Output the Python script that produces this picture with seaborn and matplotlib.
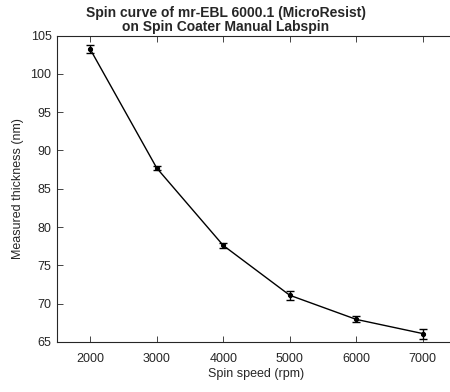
import matplotlib
matplotlib.use('Agg')
import matplotlib.pyplot as plt
import seaborn as sns
import pandas as pd
import numpy as np

# spin curve data
spin_speed = [2000, 3000, 4000, 5000, 6000, 7000]  # rpm
thickness = [103.2, 87.7, 77.6, 71.1, 67.95, 66.1]  # nm
thickness_err = [0.5, 0.3, 0.3, 0.6, 0.4, 0.65]

x_ticks = [2000, 3000, 4000, 5000, 6000, 7000]
y_ticks = [65, 70, 75, 80, 85, 90, 95, 100, 105]

data = pd.DataFrame({'speed': spin_speed, 'thickness': thickness, 'err': thickness_err})

sns.set_theme(style='ticks')
plt.rcParams['font.family'] = ['Liberation Sans', 'DejaVu Sans']

fig = plt.figure(figsize=(4.5, 3.92), dpi=100)
# axes run past the right border of the picture, as in the cropped original
ax = fig.add_axes([57 / 450, 1 - 342 / 392, 399 / 450, 306.5 / 392])

sns.lineplot(data=data, x='speed', y='thickness', color='black', linewidth=1.0,
             marker='o', markersize=3, markeredgecolor='black', ax=ax)
ax.errorbar(data.speed, data.thickness, yerr=data.err, fmt='none', ecolor='black',
            elinewidth=1.0, capsize=3, capthick=1.0)

ax.set_xlim(1500, 7500)
ax.set_ylim(65, 105)
ax.set_xticks(x_ticks)
ax.set_yticks(y_ticks)
ax.tick_params(direction='in', length=4, width=0.6, labelsize=9, colors='#262626',
               top=True, right=False, pad=4)
ax.tick_params(axis='x', pad=8)
ax.spines['right'].set_visible(False)
for s in ax.spines.values():
    s.set_linewidth(0.8)
    s.set_color('#262626')

ax.set_xlabel("Spin speed (rpm)", fontsize=9, labelpad=2, color='#262626')
ax.set_ylabel("Measured thickness (nm)", fontsize=9, labelpad=5, color='#262626')
ax.set_title("Spin curve of mr-EBL 6000.1 (MicroResist)\non Spin Coater Manual Labspin",
             fontsize=10, fontweight='bold', linespacing=1.0, pad=3, x=(226 - 57) / 399)

plt.savefig("out.png", dpi=100)
plt.close()
